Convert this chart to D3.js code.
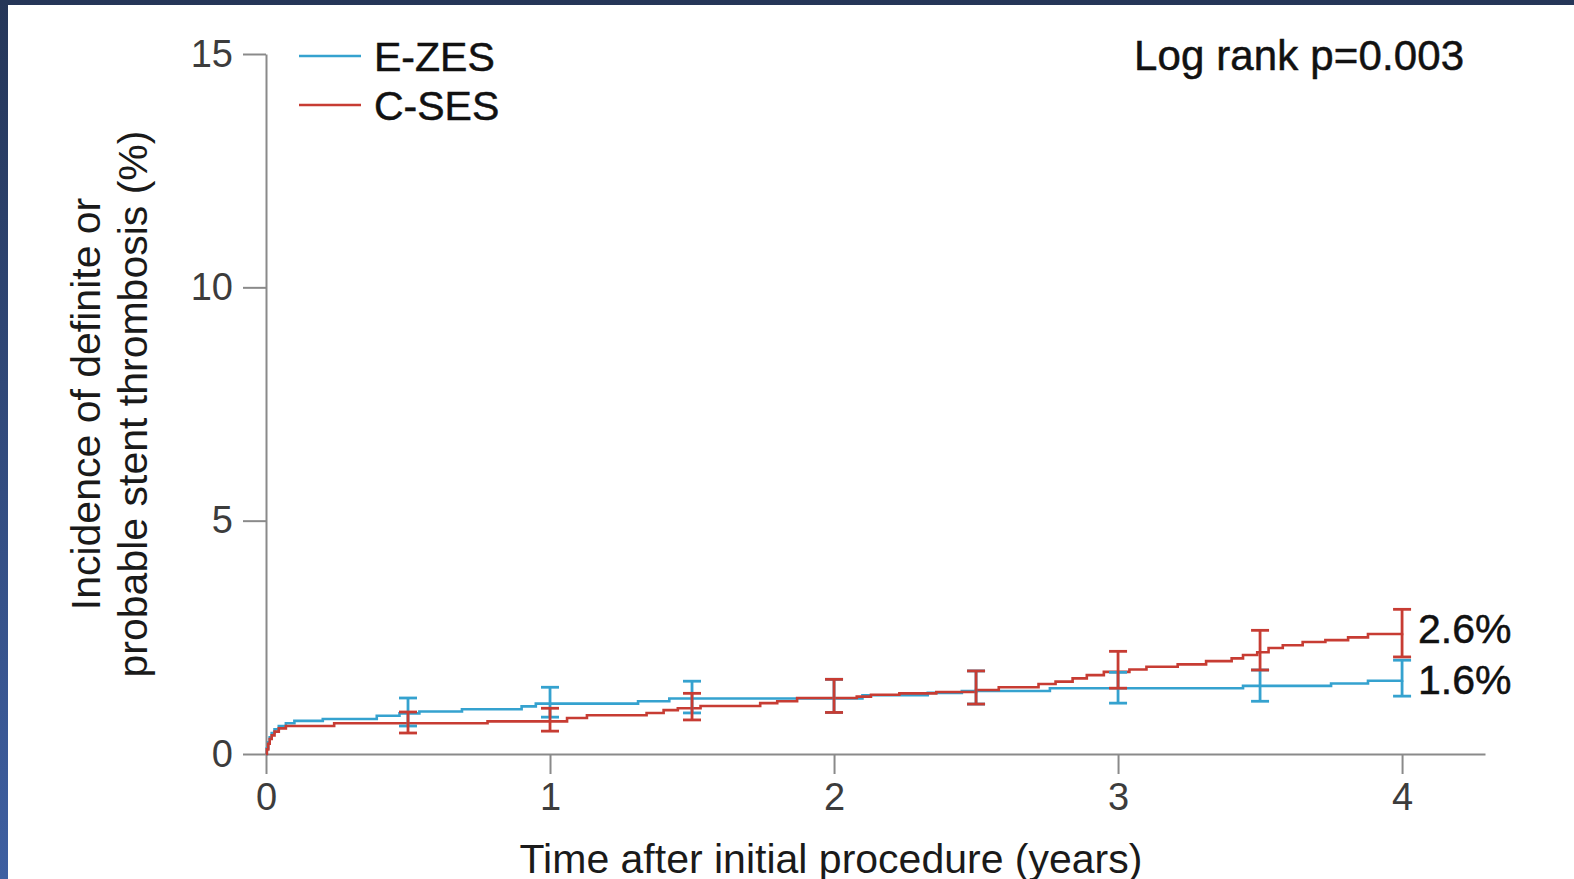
<!DOCTYPE html>
<html>
<head>
<meta charset="utf-8">
<script src="https://cdn.jsdelivr.net/npm/d3@7"></script>
<style>
html,body{margin:0;padding:0;background:#fff;}
svg{display:block;font-family:"Liberation Sans",Arial,Helvetica,sans-serif;}
</style>
</head>
<body>
<svg id="chart" width="1574" height="879"></svg>
<script>
// ---- data ----
const seriesNames = ["E-ZES", "C-SES"];
const seriesColors = ["#35a2cf", "#c73c33"];
const xTicks = [0, 1, 2, 3, 4];
const yTicks = [0, 5, 10, 15];
const ezesSteps = [[0,0],[0.003,0.12],[0.008,0.25],[0.013,0.36],[0.02,0.45],[0.03,0.53],[0.045,0.6],[0.07,0.66],[0.1,0.71],[0.2,0.75],[0.39,0.82],[0.47,0.87],[0.54,0.91],[0.69,0.96],[0.9,1.02],[0.95,1.08],[1.31,1.13],[1.42,1.19],[2.1,1.26],[2.33,1.31],[2.45,1.35],[2.76,1.41],[3.44,1.46],[3.75,1.51],[3.88,1.57],[4.0,1.58]];
const csesSteps = [[0,0],[0.003,0.1],[0.008,0.22],[0.013,0.32],[0.02,0.4],[0.03,0.48],[0.045,0.55],[0.07,0.6],[0.24,0.66],[0.78,0.7],[1.06,0.77],[1.13,0.83],[1.34,0.88],[1.4,0.94],[1.45,0.98],[1.53,1.03],[1.74,1.09],[1.8,1.13],[1.87,1.2],[2.08,1.23],[2.13,1.27],[2.23,1.3],[2.36,1.33],[2.5,1.37],[2.58,1.43],[2.72,1.5],[2.78,1.55],[2.84,1.62],[2.89,1.69],[2.95,1.76],[3.04,1.81],[3.1,1.87],[3.21,1.92],[3.31,1.99],[3.4,2.05],[3.44,2.12],[3.49,2.18],[3.53,2.27],[3.58,2.33],[3.65,2.4],[3.73,2.44],[3.81,2.5],[3.88,2.57],[4.0,2.59]];
const ciTimes = [0.5, 1, 1.5, 2, 2.5, 3, 3.5, 4];
const ezesLo = [0.60, 0.79, 0.88, 0.89, 1.07, 1.09, 1.13, 1.24];
const ezesHi = [1.20, 1.43, 1.56, 1.60, 1.78, 1.75, 1.80, 2.01];
const csesLo = [0.45, 0.49, 0.73, 0.89, 1.07, 1.41, 1.80, 2.08];
const csesHi = [0.90, 0.98, 1.30, 1.60, 1.78, 2.20, 2.65, 3.10];
const endLabels = ["2.6%", "1.6%"];
const pText = "Log rank p=0.003";
const xTitle = "Time after initial procedure (years)";
const yTitle = ["Incidence of definite or", "probable stent thrombosis (%)"];

// ---- drawing ----
const svg = d3.select("#chart");
const defs = svg.append("defs");
const grad = defs.append("linearGradient").attr("id","bg").attr("x1",0).attr("y1",0).attr("x2",0).attr("y2",1);
grad.append("stop").attr("offset","0%").attr("stop-color","#253658");
grad.append("stop").attr("offset","100%").attr("stop-color","#3e5fa1");
svg.append("rect").attr("width",1574).attr("height",879).attr("fill","url(#bg)");
svg.append("rect").attr("x",8).attr("y",5).attr("width",1566).attr("height",874).attr("fill","#ffffff");

const x = d3.scaleLinear().domain([0, 4.292]).range([266, 1485]);
const y = d3.scaleLinear().domain([0, 15]).range([754, 54]);
const axisColor = "#8a8a8a";

const gx = svg.append("g").attr("transform","translate(0,754)")
  .call(d3.axisBottom(x).tickValues(xTicks).tickSize(20).tickPadding(9).tickSizeOuter(0).tickFormat(d3.format("d")));
const gy = svg.append("g").attr("transform","translate(266,0)")
  .call(d3.axisLeft(y).tickValues(yTicks).tickSize(23).tickPadding(10).tickSizeOuter(0).tickFormat(d3.format("d")));
[gx, gy].forEach(g => {
  g.select(".domain").attr("stroke", axisColor).attr("stroke-width", 2);
  g.selectAll(".tick line").attr("stroke", axisColor).attr("stroke-width", 2);
  g.selectAll(".tick text").attr("fill","#3c3c3c").attr("font-size",38).attr("font-family","Liberation Sans, Arial, sans-serif");
});

const line = d3.line().x(d => x(d[0])).y(d => y(d[1])).curve(d3.curveStepAfter);
const series = [
  {steps: ezesSteps, lo: ezesLo, hi: ezesHi, color: seriesColors[0]},
  {steps: csesSteps, lo: csesLo, hi: csesHi, color: seriesColors[1]}
];
series.forEach(s => {
  svg.append("path").datum(s.steps).attr("d", line).attr("fill","none")
    .attr("stroke", s.color).attr("stroke-width", 2.6);
});
const capW = 9;
series.forEach(s => {
  const g = svg.append("g").attr("stroke", s.color).attr("stroke-width", 2.8).attr("fill","none");
  ciTimes.forEach((t, i) => {
    const cx = x(t);
    g.append("line").attr("x1",cx).attr("x2",cx).attr("y1",y(s.lo[i])).attr("y2",y(s.hi[i]));
    g.append("line").attr("x1",cx-capW).attr("x2",cx+capW).attr("y1",y(s.lo[i])).attr("y2",y(s.lo[i]));
    g.append("line").attr("x1",cx-capW).attr("x2",cx+capW).attr("y1",y(s.hi[i])).attr("y2",y(s.hi[i]));
  });
});

function darkText(sel){ return sel.attr("fill","#111").attr("stroke","#111").attr("stroke-width",0.5); }

// end labels
const lastC = csesSteps[csesSteps.length-1][1], lastE = ezesSteps[ezesSteps.length-1][1];
darkText(svg.append("text").attr("x", 1418).attr("y", y(lastC) + 10).attr("font-size", 41).text(endLabels[0]));
darkText(svg.append("text").attr("x", 1418).attr("y", y(lastE) + 14).attr("font-size", 41).text(endLabels[1]));

// legend
seriesNames.forEach((n, i) => {
  const ly = 56 + i * 49;
  svg.append("line").attr("x1",299).attr("x2",361).attr("y1",ly).attr("y2",ly)
    .attr("stroke", seriesColors[i]).attr("stroke-width", 2.6);
  darkText(svg.append("text").attr("x",374).attr("y",ly+15).attr("font-size",41).text(n));
});

// log rank
darkText(svg.append("text").attr("x",1134).attr("y",70).attr("font-size",42).attr("textLength",330).text(pText));

// axis titles
svg.append("text").attr("x",831).attr("y",873).attr("text-anchor","middle").attr("font-size",41).attr("fill","#1a1a1a").text(xTitle);
yTitle.forEach((t, i) => {
  svg.append("text").attr("transform",`translate(${100 + i*47},404) rotate(-90)`)
    .attr("text-anchor","middle").attr("font-size",41).attr("fill","#1a1a1a").text(t);
});
</script>
</body>
</html>
